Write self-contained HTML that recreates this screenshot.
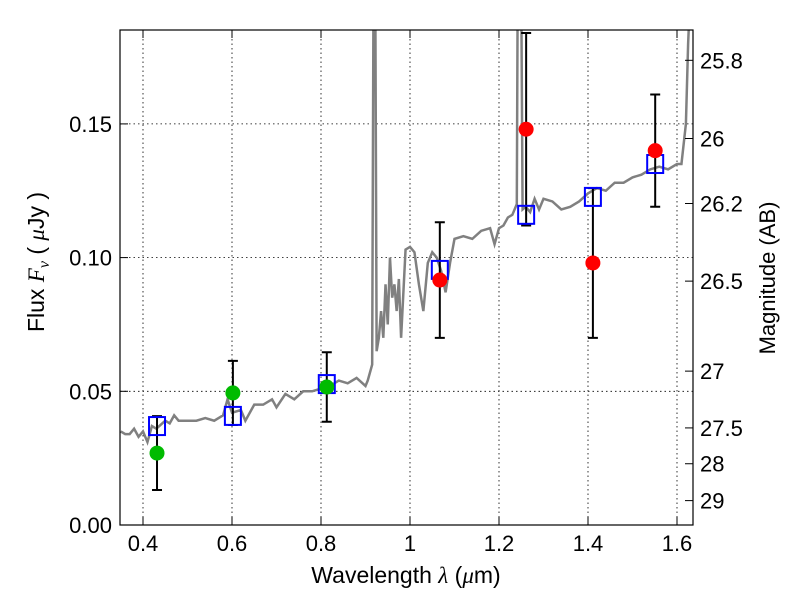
<!DOCTYPE html>
<html><head><meta charset="utf-8"><style>
body{margin:0;background:#fff;}
svg{font-family:"Liberation Sans",sans-serif;}
</style></head><body>
<svg id="chart" width="800" height="600" xmlns="http://www.w3.org/2000/svg">
<defs><clipPath id="clip"><rect x="120" y="30" width="573" height="495"/></clipPath></defs>
<g id="grid"></g>
<g id="marks" clip-path="url(#clip)"></g>
<rect x="120" y="30" width="573" height="495" fill="none" stroke="#000" stroke-width="1.2"/>
<g id="axes"></g>
<text x="406" y="583" font-size="23" text-anchor="middle">Wavelength  <tspan font-style="italic" font-family="Liberation Serif">λ</tspan> (<tspan font-style="italic" font-family="Liberation Serif">μ</tspan>m)</text>
<text transform="translate(44,262) rotate(-90)" font-size="23" text-anchor="middle">Flux  <tspan font-style="italic" font-family="Liberation Serif">F<tspan font-size="16" dy="5">ν</tspan></tspan><tspan dy="-5">  (  </tspan><tspan font-style="italic" font-family="Liberation Serif">μ</tspan>Jy )</text>
<text transform="translate(775,278) rotate(-90)" font-size="22" text-anchor="middle">Magnitude (AB)</text>
</svg>
<script>
const xTicks=[0.4,0.6,0.8,1.0,1.2,1.4,1.6];
const xTickLabels=["0.4","0.6","0.8","1","1.2","1.4","1.6"];
const yTicks=[0,0.05,0.10,0.15];
const yTickLabels=["0.00","0.05","0.10","0.15"];
const magTicks=[25.8,26,26.2,26.5,27,27.5,28,29];
const magLabels=["25.8","26","26.2","26.5","27","27.5","28","29"];
const specWave=[0.35,0.36,0.37,0.38,0.39,0.40,0.41,0.42,0.43,0.45,0.46,0.47,0.48,0.50,0.52,0.54,0.56,0.58,0.59,0.60,0.62,0.63,0.65,0.67,0.69,0.70,0.72,0.74,0.76,0.78,0.80,0.82,0.84,0.86,0.88,0.90,0.905,0.915,0.918,0.922,0.925,0.93,0.935,0.94,0.945,0.95,0.955,0.96,0.965,0.97,0.975,0.98,0.99,1.00,1.01,1.02,1.03,1.04,1.05,1.06,1.07,1.08,1.09,1.10,1.12,1.14,1.16,1.18,1.19,1.20,1.21,1.22,1.23,1.24,1.242,1.25,1.253,1.26,1.27,1.28,1.29,1.30,1.32,1.34,1.36,1.38,1.40,1.42,1.44,1.46,1.48,1.50,1.52,1.54,1.56,1.58,1.60,1.61,1.62,1.625,1.63];
const specFlux=[0.035,0.034,0.034,0.036,0.033,0.035,0.031,0.037,0.036,0.039,0.038,0.041,0.039,0.039,0.039,0.040,0.039,0.041,0.047,0.042,0.043,0.039,0.045,0.045,0.047,0.044,0.049,0.047,0.050,0.050,0.051,0.052,0.054,0.053,0.055,0.052,0.054,0.060,0.2,0.2,0.065,0.070,0.080,0.070,0.090,0.075,0.100,0.085,0.090,0.080,0.092,0.070,0.103,0.104,0.102,0.090,0.080,0.098,0.102,0.100,0.095,0.087,0.098,0.107,0.108,0.107,0.110,0.111,0.105,0.111,0.112,0.115,0.116,0.120,0.2,0.2,0.118,0.119,0.117,0.122,0.118,0.122,0.121,0.118,0.119,0.121,0.124,0.126,0.125,0.128,0.128,0.130,0.131,0.133,0.134,0.133,0.135,0.135,0.150,0.180,0.2];
const obsWave=[0.4315,0.602,0.813,1.067,1.261,1.411,1.551];
const obsFlux=[0.0269,0.0494,0.0516,0.0916,0.148,0.098,0.140];
const obsErr=[0.0138,0.0120,0.0130,0.0216,0.036,0.028,0.021];
const obsColor=["#00bb00","#00bb00","#00bb00","#ff0000","#ff0000","#ff0000","#ff0000"];
const modelFlux=[0.037,0.0408,0.0527,0.0954,0.116,0.1227,0.135];

const NS="http://www.w3.org/2000/svg";
const X=v=>143+(v-0.4)*445;
const Y=v=>525-v*2674;
const magToFlux=m=>Math.pow(10,(23.9-m)/2.5);
function mk(tag,attrs,parent){const e=document.createElementNS(NS,tag);for(const k in attrs)e.setAttribute(k,attrs[k]);parent.appendChild(e);return e;}
const grid=document.getElementById('grid'),marks=document.getElementById('marks'),axes=document.getElementById('axes');
xTicks.forEach((t,i)=>{
  const g=mk('line',{x1:X(t),x2:X(t),y1:30,y2:525,stroke:'#000','stroke-width':0.8,'stroke-dasharray':'1.5,3'},grid);
  
  
  mk('line',{x1:X(t),x2:X(t),y1:525,y2:517,stroke:'#000'},axes);
  mk('line',{x1:X(t),x2:X(t),y1:30,y2:38,stroke:'#000'},axes);
  const l=mk('text',{x:X(t),y:551,'font-size':22,'text-anchor':'middle'},axes);l.textContent=xTickLabels[i];
  
  
});
yTicks.forEach((t,i)=>{
  const g=mk('line',{x1:120,x2:693,y1:Y(t),y2:Y(t),stroke:'#000','stroke-width':0.8,'stroke-dasharray':'1.5,3'},grid);
  
  
  mk('line',{x1:120,x2:128,y1:Y(t),y2:Y(t),stroke:'#000'},axes);
  const l=mk('text',{x:112,y:Y(t)+8,'font-size':22,'text-anchor':'end'},axes);l.textContent=yTickLabels[i];
  
  
});
magTicks.forEach((m,i)=>{
  const y=Y(magToFlux(m));
  mk('line',{x1:685,x2:693,y1:y,y2:y,stroke:'#000'},axes);
  const l=mk('text',{x:700,y:y+8,'font-size':22},axes);l.textContent=magLabels[i];
  
  
});
const sp=mk('polyline',{points:specWave.map((w,i)=>X(w)+','+Y(specFlux[i])).join(' '),fill:'none',stroke:'#808080','stroke-width':2.5},marks);


obsWave.forEach((w,i)=>{
  const x=X(w),y1=Y(obsFlux[i]+obsErr[i]),y2=Y(obsFlux[i]-obsErr[i]);
  const eb=mk('path',{d:`M${x},${y1}V${y2}M${x-5},${y1}H${x+5}M${x-5},${y2}H${x+5}`,stroke:'#000','stroke-width':2,fill:'none'},marks);
  
  
  const sq=mk('rect',{x:x-8,y:Y(modelFlux[i])-9,width:16,height:18,fill:'none',stroke:'#0000ff','stroke-width':2},marks);
  
  
  const c=mk('circle',{cx:x,cy:Y(obsFlux[i]),r:7.5,fill:obsColor[i]},marks);
  
  
});
</script>
</body></html>
